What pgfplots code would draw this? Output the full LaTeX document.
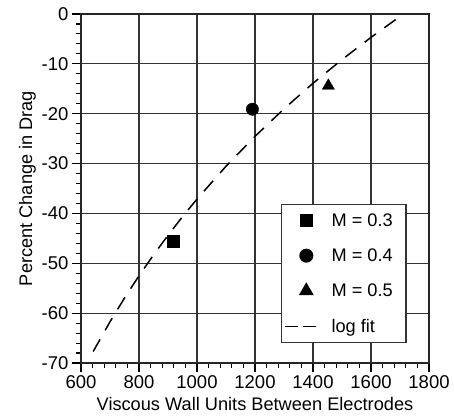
\documentclass[border=0pt]{standalone}
\usepackage{pgfplots}
\pgfplotsset{compat=1.18}
\usepackage{fontspec}
\setmainfont{Liberation Sans}

\pgfplotsset{
    markleg/.style={legend image code/.code={%
        \path[draw=none, fill=none] (0pt,0pt) -- (31pt,0pt);
        \draw[##1, only marks] plot coordinates {(21.5pt,0pt)};}},
    lineleg/.style={legend image code/.code={%
        \draw[##1, dash pattern=on 13pt off 5pt] (0pt,0pt) -- (31pt,0pt);}},
}

\begin{document}
\begin{tikzpicture}
\begin{axis}[
    scale only axis,
    width=348pt,
    height=349pt,
    xmin=600, xmax=1800,
    ymin=-70, ymax=0,
    xtick={600,800,...,1800},
    ytick={-70,-60,...,0},
    minor x tick num=4,
    minor y tick num=4,
    tick align=outside,
    xtick pos=bottom,
    ytick pos=left,
    major tick length=9pt,
    minor tick length=5pt,
    every tick/.style={black,line width=1.1pt},
    grid=major,
    major grid style={black!80,line width=1.2pt},
    axis line style={black!85,line width=1.8pt},
    /pgf/number format/assume math mode=true,
    /pgf/number format/1000 sep={},
    tick label style={font=\fontsize{18.5}{22}\selectfont},
    xlabel={Viscous Wall Units Between Electrodes},
    ylabel={Percent Change in Drag},
    every axis x label/.style={at={(rel axis cs:0.5,-0.118)}, anchor=center,
        font=\fontsize{18.2}{22}\selectfont},
    every axis y label/.style={at={(rel axis cs:-0.154,0.5)}, anchor=center,
        rotate=90, font=\fontsize{18.2}{22}\selectfont},
    legend style={
        at={(rel axis cs:0.937,0.056)}, anchor=south east,
        draw=black!80, line width=1.6pt,
        font=\fontsize{18.2}{22}\selectfont,
        row sep=17pt,
        inner xsep=2.5pt, inner ysep=7pt,
        /tikz/every odd column/.append style={column sep=13pt},
    },
    legend cell align=left,
]
\addplot[only marks, mark=square*, mark size=6pt, black, markleg] coordinates {
    (918,-45.5)
};
\addlegendentry{M = 0.3\hspace*{9pt}}
\addplot[only marks, mark=*, mark size=6.2pt, black, markleg] coordinates {
    (1191,-19.1)
};
\addlegendentry{M = 0.4\hspace*{9pt}}
\addplot[only marks, mark=triangle*, mark size=7pt, black, markleg] coordinates {
    (1453,-14.4)
};
\addlegendentry{M = 0.5\hspace*{9pt}}
\addplot[black, line width=1.5pt, dash pattern=on 14pt off 10.4pt, lineleg] coordinates {
    (642,-67.70) (700,-61.73) (750,-56.97) (800,-52.51) (850,-48.33)
    (900,-44.39) (950,-40.66) (1000,-37.12) (1100,-30.54) (1200,-24.54)
    (1300,-19.02) (1400,-13.90) (1500,-9.14) (1600,-4.69) (1685,-1.12)
};
\addlegendentry{log fit}
\coordinate (ll) at (rel axis cs:0,0);
\coordinate (ur) at (rel axis cs:1,1);
\end{axis}
\path ([shift={(-81pt,-56pt)}]ll) rectangle ([shift={(25pt,14pt)}]ur);
\end{tikzpicture}
\end{document}
